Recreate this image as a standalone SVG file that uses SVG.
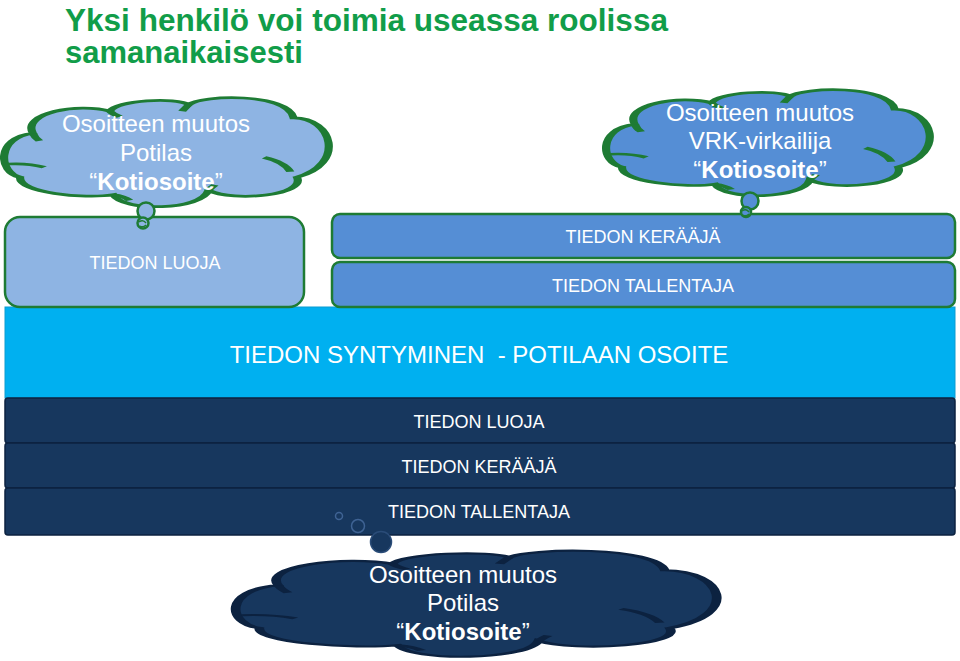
<svg xmlns="http://www.w3.org/2000/svg" width="960" height="661" viewBox="0 0 960 661">
<defs>
<path id="cloudShape" d="M4.6,72 C-2,68 -3,36 8.5,32 C5,14 22,4 32,12 C34,2 52,-1 56,6 C60,-3 86,-5 88,18 C100,18 104,60 89,72 C92,88 70,95 62,84 C60,102 36,104 33,88 C24,92 4,86 4.6,72 Z"/>
<path id="cloudInner" d="M1,60 Q7,59 12,63 M79,54 Q85,58 87,67 M33,88 Q36,89 38,93 M8.5,32 Q9,36 10.5,39 M32,12 Q33,15 35,17 M56,6 Q55,9 54,12 M62,84 Q63,81 64,79"/>
</defs>
<style>
.title{font-family:"Liberation Sans",Arial,sans-serif;font-weight:bold;font-size:31px;fill:#119D49}
.ct{font-family:"Liberation Sans",Arial,sans-serif;font-size:24px;fill:#FFFFFF;text-anchor:middle}
.ct .b{font-weight:bold}
.bt{font-family:"Liberation Sans",Arial,sans-serif;font-size:18px;fill:#FFFFFF;text-anchor:middle}
.big{font-family:"Liberation Sans",Arial,sans-serif;font-size:24px;fill:#FFFFFF;text-anchor:middle;white-space:pre}
.gs{stroke:#1E7B34;stroke-width:2.5}
.cl{vector-effect:non-scaling-stroke;stroke-width:2.5}
.navy{fill:#17375E;stroke:#0C2240;stroke-width:1.5}
</style>
<rect width="960" height="661" fill="#FFFFFF"/>

<g id="title">
<text class="title" x="65" y="31" textLength="603" lengthAdjust="spacingAndGlyphs">Yksi henkilö voi toimia useassa roolissa</text>
<text class="title" x="65" y="63">samanaikaisesti</text>
</g>

<g id="base-cyan">
<rect x="5" y="307" width="950" height="91" fill="#00B0F0" stroke="#0D9BD0" stroke-width="1"/>
<text class="big" x="479" y="363" xml:space="preserve">TIEDON SYNTYMINEN  - POTILAAN OSOITE</text>
</g>

<g id="box-luoja">
<rect x="5" y="217" width="299" height="90" rx="15" fill="#8EB4E3" class="gs"/>
<text class="bt" x="155" y="269">TIEDON LUOJA</text>
</g>
<g id="box-keraaja">
<rect x="332" y="214" width="623" height="44" rx="8" fill="#558ED5" class="gs"/>
<text class="bt" x="643" y="243">TIEDON KERÄÄJÄ</text>
</g>
<g id="box-tallentaja">
<rect x="332" y="262" width="623" height="45" rx="8" fill="#558ED5" class="gs"/>
<text class="bt" x="643" y="292">TIEDON TALLENTAJA</text>
</g>

<g id="navy-luoja">
<rect x="5" y="398" width="950" height="45" rx="3" class="navy"/>
<text class="bt" x="479" y="428">TIEDON LUOJA</text>
</g>
<g id="navy-keraaja">
<rect x="5" y="443" width="950" height="45" rx="3" class="navy"/>
<text class="bt" x="479" y="473">TIEDON KERÄÄJÄ</text>
</g>
<g id="navy-tallentaja">
<rect x="5" y="488" width="950" height="47" rx="3" class="navy"/>
<text class="bt" x="479" y="518">TIEDON TALLENTAJA</text>
</g>

<g id="cloud-potilas">
<g transform="translate(5,98) scale(3.28,1.10)">
<use href="#cloudShape" fill="#8EB4E3" stroke="#1E7B34" class="cl"/>
<use href="#cloudInner" fill="none" stroke="#1E7B34" class="cl"/>
</g>
<circle cx="146" cy="211" r="8.5" fill="#8EB4E3" class="gs"/>
<circle cx="143" cy="223" r="5.5" fill="#8EB4E3" class="gs"/>
<path d="M139,222 q4,-3 7,1 M140,226 q3,2 6,-1" fill="none" stroke="#1E7B34" stroke-width="1.5"/>
<text class="ct" x="156" y="132">Osoitteen muutos</text>
<text class="ct" x="156" y="161">Potilas</text>
<text class="ct" x="156" y="190">“<tspan class="b">Kotiosoite</tspan>”</text>
</g>

<g id="cloud-vrk">
<g transform="translate(607,90) scale(3.27,1.07)">
<use href="#cloudShape" fill="#558ED5" stroke="#1E7B34" class="cl"/>
<use href="#cloudInner" fill="none" stroke="#1E7B34" class="cl"/>
</g>
<circle cx="750" cy="201" r="8.5" fill="#558ED5" class="gs"/>
<circle cx="746" cy="212" r="5" fill="#558ED5" class="gs"/>
<path d="M742,211 q4,-3 7,1 M743,215 q3,2 6,-1" fill="none" stroke="#1E7B34" stroke-width="1.5"/>
<text class="ct" x="760" y="121">Osoitteen muutos</text>
<text class="ct" x="760" y="149">VRK-virkailija</text>
<text class="ct" x="760" y="178">“<tspan class="b">Kotiosoite</tspan>”</text>
</g>

<g id="cloud-bottom">
<circle cx="339" cy="516" r="3.5" fill="#17375E" stroke="#3F6394" stroke-width="1.5"/>
<circle cx="358" cy="526" r="6.5" fill="#17375E" stroke="#3F6394" stroke-width="1.5"/>
<circle cx="381" cy="542" r="10.5" fill="#17375E" stroke="#2A4C78" stroke-width="1.5"/>
<g transform="translate(237,551) scale(4.86,1.07)">
<use href="#cloudShape" fill="#17375E" stroke="#0C2240" class="cl" style="stroke-width:2"/>
<use href="#cloudInner" fill="none" stroke="#0C2240" class="cl" style="stroke-width:2"/>
</g>
<text class="ct" x="463" y="583">Osoitteen muutos</text>
<text class="ct" x="463" y="611">Potilas</text>
<text class="ct" x="463" y="640">“<tspan class="b">Kotiosoite</tspan>”</text>
</g>
</svg>
